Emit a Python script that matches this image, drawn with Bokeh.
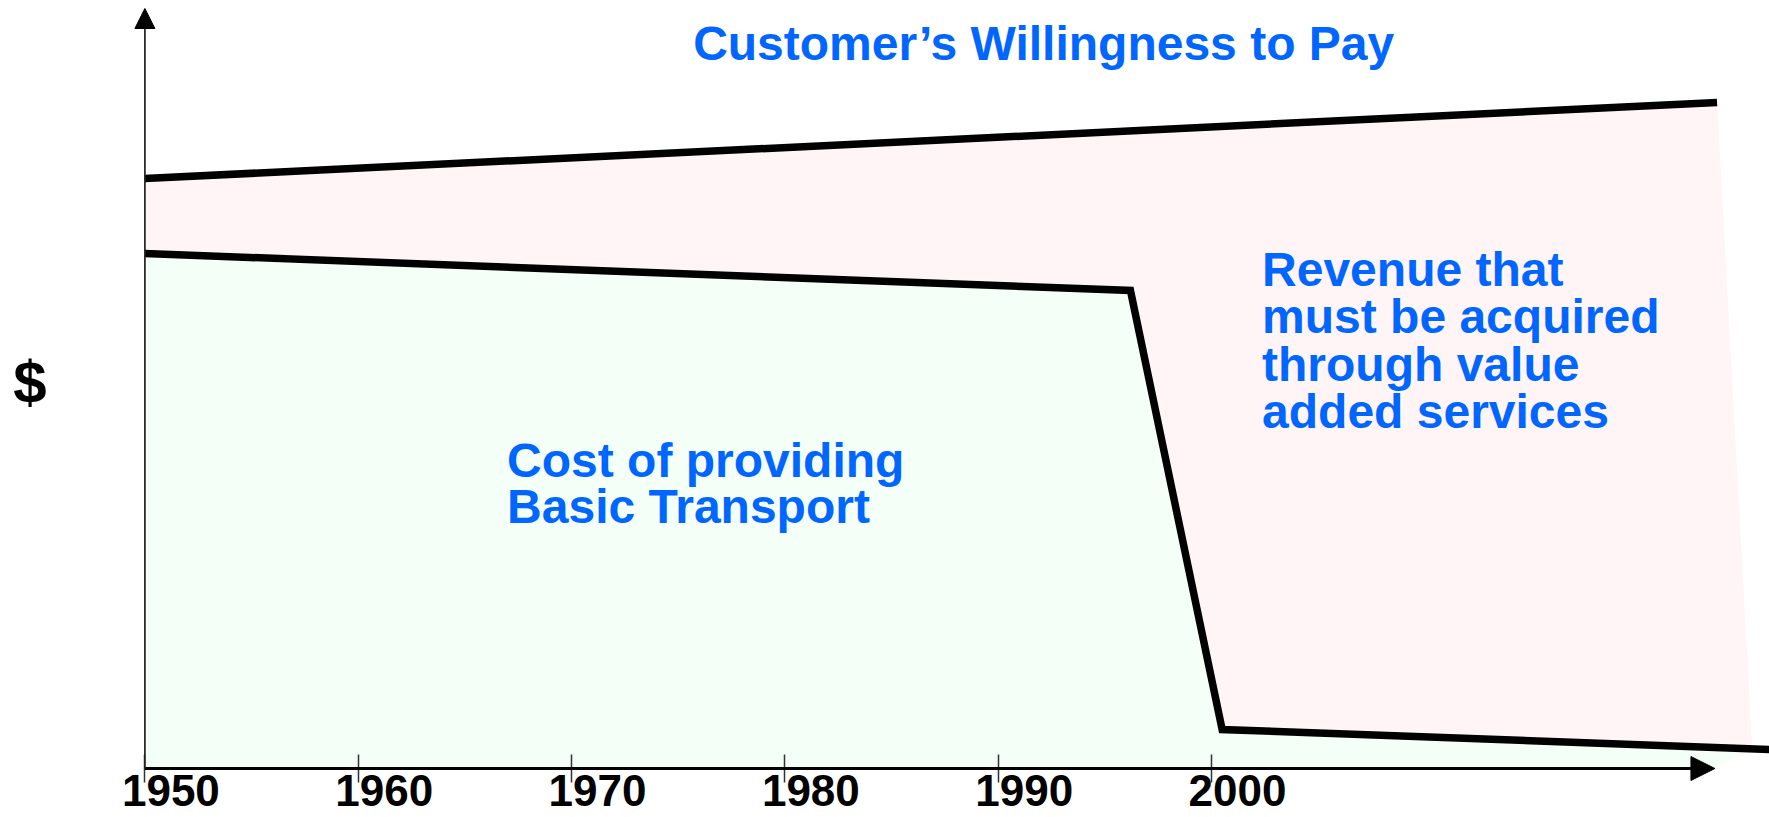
from bokeh.plotting import figure
from bokeh.models import Range1d, LinearAxis, FixedTicker, Arrow, NormalHead
from bokeh.core.properties import value
from bokeh.embed import file_html
from bokeh.resources import INLINE
import numpy as np

# ---------------- data ----------------
tick_years = [1950, 1960, 1970, 1980, 1990, 2000]
tick_labels = ["1950", "1960", "1970", "1980", "1990", "2000"]

wtp_years = [1950.0, 2023.7]          # customer's willingness to pay
wtp_values = [59.0, 66.6]

cost_years = [1950.0, 1996.2, 2000.5, 2026.2]   # cost of providing basic transport
cost_values = [51.5, 47.8, 3.9, 1.9]

edge_years = [2023.7, 2025.35]        # right edge of the shaded regions (top, bottom)
axis_end_year = 2023.6
y_axis_top = 76.0

title_text = "Customer\u2019s Willingness to Pay"
revenue_lines = ["Revenue that", "must be acquired", "through value", "added services"]
cost_lines = ["Cost of providing", "Basic Transport"]
y_label = "$"

# ---------------- layout constants ----------------
W, H = 1769, 817
PX_PER_YEAR = 21.332
X_ORIGIN_PX = 144.4
X0 = 1950 - X_ORIGIN_PX / PX_PER_YEAR
X1 = 1950 + (W - X_ORIGIN_PX) / PX_PER_YEAR
Y_ORIGIN_PX = 768.0
PX_PER_UNIT = 10.0
Y0 = (Y_ORIGIN_PX - H) / PX_PER_UNIT
Y1 = Y_ORIGIN_PX / PX_PER_UNIT
LABEL_SHIFT = 26 / PX_PER_YEAR

FONT = "Liberation Sans"
BLUE = "#0066ff"
PINK = "#fff5f6"
GREEN = "#f4fff7"

p = figure(width=W, height=H, x_range=Range1d(X0, X1), y_range=Range1d(Y0, Y1),
           min_border=0, toolbar_location=None, output_backend="svg", title=None)
p.grid.visible = False
p.outline_line_color = None
p.background_fill_color = "white"

# shaded regions
edge_bottom = float(np.interp(edge_years[1], cost_years, cost_values))
pink_x = wtp_years + [edge_years[1]] + cost_years[:3][::-1]
pink_y = wtp_values + [edge_bottom] + cost_values[:3][::-1]
p.patch(pink_x, pink_y, fill_color=PINK, line_color=None)

green_x = cost_years[:3] + [edge_years[1], axis_end_year, tick_years[0]]
green_y = cost_values[:3] + [edge_bottom, 0, 0]
p.patch(green_x, green_y, fill_color=GREEN, line_color=None)

# lines
p.line(wtp_years, wtp_values, line_width=7.5, line_color="black", line_join="miter")
p.line(cost_years, cost_values, line_width=7.5, line_color="black", line_join="miter")

# texts
txt = dict(text_font=value(FONT), text_font_style="bold", text_font_size="48px",
           text_color=BLUE, text_align="left", text_baseline="alphabetic")

p.text(x=[1975.7], y=[72.5], text=[title_text], **txt)

rev_x, rev_y0, rev_step = 2002.37, 49.9, 4.74
p.text(x=[rev_x] * len(revenue_lines),
       y=[rev_y0 - i * rev_step for i in range(len(revenue_lines))],
       text=revenue_lines, **txt)

cost_x, cost_y0, cost_step = 1966.98, 30.85, 4.65
p.text(x=[cost_x] * len(cost_lines),
       y=[cost_y0 - i * cost_step for i in range(len(cost_lines))],
       text=cost_lines, **txt)

# x axis: ticks at true positions
xa = p.xaxis[0]
xa.fixed_location = 0
xa.ticker = FixedTicker(ticks=tick_years)
xa.axis_line_color = None
xa.major_tick_in = 14
xa.major_tick_out = 14
xa.major_tick_line_color = "#333333"
xa.major_tick_line_width = 1.5
xa.minor_tick_line_color = None
xa.major_label_text_color = None

# x axis labels (slightly offset to the right, as in the original)
p.extra_x_ranges = {"lbl": Range1d(X0 - LABEL_SHIFT, X1 - LABEL_SHIFT)}
la = LinearAxis(x_range_name="lbl", fixed_location=0,
                ticker=FixedTicker(ticks=tick_years),
                major_label_overrides={y: l for y, l in zip(tick_years, tick_labels)})
la.axis_line_color = None
la.major_tick_line_color = None
la.minor_tick_line_color = None
la.major_tick_in = 0
la.major_tick_out = 0
la.major_label_standoff = 6
la.major_label_text_font = FONT
la.major_label_text_font_style = "bold"
la.major_label_text_font_size = "44px"
la.major_label_text_color = "black"
p.add_layout(la, "below")

# y axis
ya = p.yaxis[0]
ya.fixed_location = 1950
ya.ticker = FixedTicker(ticks=[])
ya.axis_line_color = None
ya.major_tick_in = 0
ya.major_tick_out = 0
ya.minor_tick_line_color = None
ya.bounds = (1.2, y_axis_top)
ya.axis_label = y_label
ya.axis_label_orientation = "horizontal"
ya.axis_label_standoff = 98
ya.axis_label_text_font = FONT
ya.axis_label_text_font_style = "bold"
ya.axis_label_text_font_size = "60px"
ya.axis_label_text_color = "black"

# axis arrows
p.add_layout(Arrow(end=NormalHead(size=24, fill_color="black", line_color="black", line_width=1),
                   x_start=tick_years[0], y_start=0, x_end=axis_end_year, y_end=0,
                   line_width=3, line_color="black"))
p.add_layout(Arrow(end=NormalHead(size=20, fill_color="black", line_color="black", line_width=1),
                   x_start=tick_years[0], y_start=0, x_end=tick_years[0], y_end=y_axis_top,
                   line_width=1.7, line_color="#222222"))

open("out.html", "w").write(file_html(p, INLINE))
